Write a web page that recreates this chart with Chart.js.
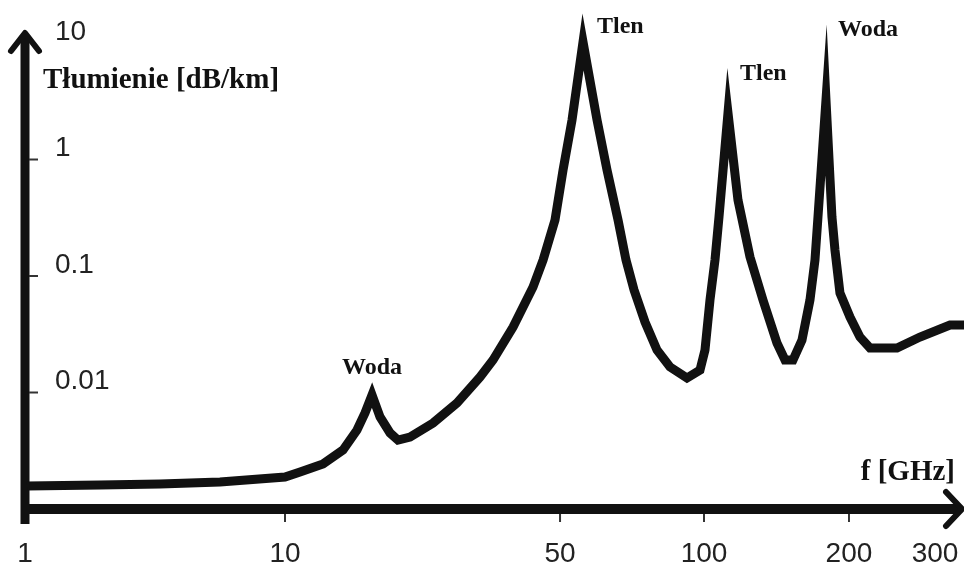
<!DOCTYPE html>
<html>
<head>
<meta charset="utf-8">
<script src="https://cdn.jsdelivr.net/npm/chart.js@4.4.1/dist/chart.umd.min.js"></script>
<style>
  html, body { margin: 0; padding: 0; background: #ffffff; overflow: hidden; }
  #wrap { width: 964px; height: 567px; position: relative; }
  canvas { display: block; }
</style>
</head>
<body>
<div id="wrap"><canvas id="c" width="964" height="567" style="width:964px;height:567px"></canvas></div>
<script>
// ---- data ----
const tickFreqs = [1, 10, 50, 100, 200, 300];
const tickLabels = ['1', '10', '50', '100', '200', '300'];
const yTickValues = [0.01, 0.1, 1, 10];
const yTickLabels = ['0.01', '0.1', '1', '10'];

const freqGHz = [1.018, 1.943, 3.305, 5.623, 10.0, 10.92, 12.49, 14.04, 15.24, 15.97,
  16.64, 17.44, 18.49, 19.37, 20.78, 23.78, 27.36, 31.30, 33.78, 37.98,
  42.69, 45.27, 48.55, 50.73, 52.97, 55.85, 59.75, 62.70, 66.11, 68.69,
  71.40, 75.28, 79.75, 84.91, 92.14, 98.09, 100.48, 102.91, 105.40, 107.43, 112.16,
  117.64, 124.60, 132.58, 141.75, 147.29, 153.03, 159.75, 165.98, 170.00, 172.45,
  179.18, 184.37, 187.04, 191.57, 200.95, 210.6, 220.8, 250.8, 279.5, 322.0, 344.0];
const attenuation = [0.001575, 0.001607, 0.001639, 0.001705, 0.001882, 0.002078, 0.002434, 0.003209, 0.004766, 0.006668,
  0.009517, 0.006163, 0.004492, 0.003910, 0.004150, 0.005472, 0.008126, 0.01358, 0.01901, 0.03649,
  0.08046, 0.1372, 0.3025, 0.8126, 2.184, 10.2, 2.184, 0.8126, 0.3025, 0.1372,
  0.07584, 0.04028, 0.02316, 0.01655, 0.01332, 0.01560, 0.02316, 0.06223, 0.1372, 0.3209, 2.507,
  0.4492, 0.1456, 0.06223, 0.02660, 0.01901, 0.01901, 0.02822, 0.06223, 0.1372, 0.3209,
  3.241, 0.3209, 0.1672, 0.07147, 0.04447, 0.02995, 0.02410, 0.02410, 0.02995, 0.03797, 0.03797];

const peakNames = ['Woda', 'Tlen', 'Tlen', 'Woda'];
const peakIndex = [10, 25, 40, 51];

const yTitle = 'Tłumienie [dB/km]';
const xTitle = 'f [GHz]';

// ---- layout / style (the drawn frequency axis is not uniform, so it is warped piecewise) ----
const tickFrac = [0, 0.2769, 0.5698, 0.7231, 0.8775, 0.9691];
const peakLabelOffset = [[0, -27, 'center'], [14, -15, 'left'], [12, -39, 'left'], [12, -70, 'left']];
const INK = '#111111';

function warp(f) {
  const lf = Math.log10(f);
  let i = 0;
  while (i < tickFreqs.length - 2 && f > tickFreqs[i + 1]) i++;
  const a = Math.log10(tickFreqs[i]), b = Math.log10(tickFreqs[i + 1]);
  return tickFrac[i] + (lf - a) / (b - a) * (tickFrac[i + 1] - tickFrac[i]);
}

const points = freqGHz.map((f, i) => ({ x: warp(f), y: attenuation[i] }));

const axesPlugin = {
  id: 'handAxes',
  beforeDatasetsDraw(chart) {
    const ctx = chart.ctx;
    const xs = chart.scales.x, ys = chart.scales.y;
    const ca = chart.chartArea;
    const x0 = ca.left, y0 = ca.bottom;
    ctx.save();
    ctx.strokeStyle = INK;
    ctx.lineCap = 'butt';
    // y axis
    ctx.lineWidth = 9;
    ctx.beginPath(); ctx.moveTo(x0, y0 + 15); ctx.lineTo(x0, 36); ctx.stroke();
    // x axis
    ctx.lineWidth = 10;
    ctx.beginPath(); ctx.moveTo(x0 - 4, y0); ctx.lineTo(ca.right - 5, y0); ctx.stroke();
    // arrow heads
    ctx.lineWidth = 6; ctx.lineCap = 'round'; ctx.lineJoin = 'round';
    ctx.beginPath(); ctx.moveTo(x0 - 14, 51); ctx.lineTo(x0, 33); ctx.lineTo(x0 + 14, 51); ctx.stroke();
    ctx.beginPath(); ctx.moveTo(ca.right - 18, y0 - 17); ctx.lineTo(ca.right - 2, y0); ctx.lineTo(ca.right - 18, y0 + 17); ctx.stroke();
    // small ticks
    ctx.lineWidth = 2; ctx.lineCap = 'butt'; ctx.strokeStyle = '#333';
    yTickValues.slice(0, 3).forEach(v => {
      const py = ys.getPixelForValue(v);
      ctx.beginPath(); ctx.moveTo(x0 + 4, py); ctx.lineTo(x0 + 13, py); ctx.stroke();
    });
    tickFreqs.slice(1, 5).forEach(f => {
      const px = xs.getPixelForValue(warp(f));
      ctx.beginPath(); ctx.moveTo(px, y0 + 5); ctx.lineTo(px, y0 + 13); ctx.stroke();
    });
    // axis titles
    ctx.fillStyle = INK;
    ctx.font = 'bold 29px "Liberation Serif", "Times New Roman", serif';
    ctx.textBaseline = 'middle';
    ctx.textAlign = 'left';
    ctx.fillText(yTitle, x0 + 18, 81);
    ctx.textAlign = 'right';
    ctx.fillText(xTitle, ca.right - 9, 473);
    // peak labels
    ctx.font = 'bold 24px "Liberation Serif", "Times New Roman", serif';
    peakIndex.forEach((idx, k) => {
      const px = xs.getPixelForValue(points[idx].x);
      const py = ys.getPixelForValue(points[idx].y);
      const o = peakLabelOffset[k];
      ctx.textAlign = o[2];
      ctx.fillText(peakNames[k], px + o[0], py + o[1]);
    });
    ctx.restore();
    ctx.miterLimit = 30;
  }
};

new Chart(document.getElementById('c'), {
  type: 'line',
  data: {
    datasets: [{
      data: points,
      borderColor: INK,
      borderWidth: 9,
      borderJoinStyle: 'miter',
      borderCapStyle: 'butt',
      pointRadius: 0,
      tension: 0,
      fill: false,
      clip: false
    }]
  },
  options: {
    responsive: false,
    animation: false,
    devicePixelRatio: 1,
    layout: { padding: 0 },
    plugins: { legend: { display: false }, tooltip: { enabled: false } },
    scales: {
      x: {
        type: 'linear',
        min: 0, max: 1,
        bounds: 'data',
        grid: { display: false, drawTicks: false },
        border: { display: false },
        afterBuildTicks: s => { s.ticks = tickFreqs.map(f => ({ value: warp(f) })); },
        afterFit: s => { s.height = 58; s.paddingLeft = 0; s.paddingRight = 0; },
        ticks: {
          autoSkip: false, maxRotation: 0, minRotation: 0,
          padding: 28,
          color: '#222',
          font: { family: '"Liberation Sans", Arial, sans-serif', size: 28 },
          callback: (v, i) => tickLabels[i]
        }
      },
      y: {
        type: 'logarithmic',
        min: 0.001, max: 23.4,
        bounds: 'data',
        grid: { display: false, drawTicks: false },
        border: { display: false },
        afterBuildTicks: s => { s.ticks = yTickValues.map(v => ({ value: v })); },
        afterFit: s => { s.width = 25; s.paddingTop = 0; s.paddingBottom = 0; },
        ticks: {
          mirror: true,
          padding: 30,
          labelOffset: -11,
          color: '#222',
          font: { family: '"Liberation Sans", Arial, sans-serif', size: 28 },
          callback: (v, i) => yTickLabels[i]
        }
      }
    }
  },
  plugins: [axesPlugin]
});
</script>
</body>
</html>
